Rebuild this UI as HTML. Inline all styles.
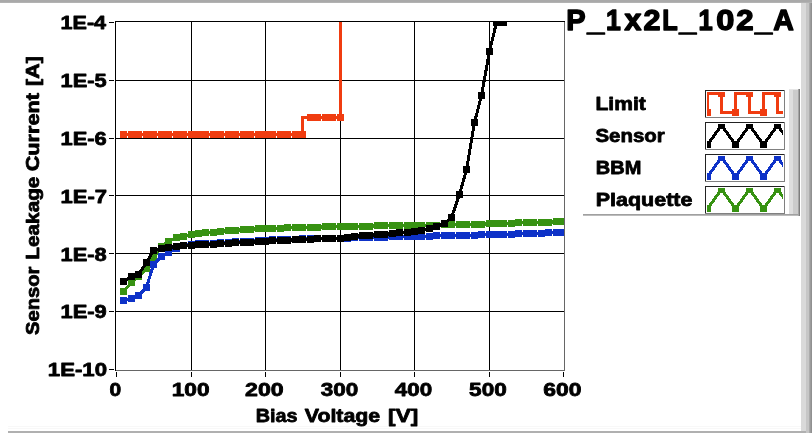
<!DOCTYPE html>
<html><head><meta charset="utf-8"><title>P_1x2L_102_A</title>
<style>html,body{margin:0;padding:0;background:#fff;overflow:hidden}body{width:812px;height:433px;position:relative;font-family:"Liberation Sans",sans-serif}</style></head>
<body>
<svg width="812" height="433" viewBox="0 0 812 433" style="display:block;position:absolute;left:0;top:0;will-change:transform">
<defs><clipPath id="pc"><rect x="116" y="22" width="448" height="348"/></clipPath>
<clipPath id="lc0"><rect x="707" y="92" width="76" height="24"/></clipPath>
<clipPath id="lc1"><rect x="707" y="124" width="76" height="24"/></clipPath>
<clipPath id="lc2"><rect x="707" y="156" width="76" height="24"/></clipPath>
<clipPath id="lc3"><rect x="707" y="188" width="76" height="24"/></clipPath>
</defs>
<rect width="812" height="433" fill="#fff"/>
<g shape-rendering="crispEdges">
<rect x="0" y="0" width="812" height="2" fill="#a9a9a9"/><rect x="0" y="2" width="812" height="1" fill="#b2b2b2"/>
<rect x="801" y="3" width="5" height="428" fill="#d9d9d9"/><rect x="806" y="3" width="3" height="430" fill="#c6c6c6"/><rect x="809" y="3" width="1" height="430" fill="#ababab"/><rect x="810" y="3" width="1" height="430" fill="#9c9c9c"/><rect x="811" y="3" width="1" height="430" fill="#909090"/>
<rect x="8" y="426" width="793" height="1" fill="#f8f8f8"/><rect x="8" y="428" width="793" height="1" fill="#f8f8f8"/>
<rect x="8" y="431" width="798" height="2" fill="#b0b0b0"/>
</g>
<g shape-rendering="crispEdges" fill="#000">
<rect x="191" y="22" width="1" height="348"/>
<rect x="265" y="22" width="1" height="348"/>
<rect x="340" y="22" width="1" height="348"/>
<rect x="414" y="22" width="1" height="348"/>
<rect x="489" y="22" width="1" height="348"/>
<rect x="116" y="80" width="448" height="1"/>
<rect x="116" y="138" width="448" height="1"/>
<rect x="116" y="195" width="448" height="1"/>
<rect x="116" y="253" width="448" height="1"/>
<rect x="116" y="311" width="448" height="1"/>
<rect x="115" y="21" width="450" height="1"/><rect x="115" y="21" width="1" height="350"/>
<rect x="116" y="370" width="449" height="1" fill="#666"/><rect x="564" y="22" width="1" height="349" fill="#666"/>
<rect x="109" y="22" width="5" height="1"/>
<rect x="109" y="80" width="5" height="1"/>
<rect x="109" y="138" width="5" height="1"/>
<rect x="109" y="195" width="5" height="1"/>
<rect x="109" y="253" width="5" height="1"/>
<rect x="109" y="311" width="5" height="1"/>
<rect x="109" y="369" width="5" height="1"/>
<rect x="116" y="372" width="1" height="5"/>
<rect x="191" y="372" width="1" height="5"/>
<rect x="265" y="372" width="1" height="5"/>
<rect x="340" y="372" width="1" height="5"/>
<rect x="414" y="372" width="1" height="5"/>
<rect x="489" y="372" width="1" height="5"/>
<rect x="563" y="372" width="1" height="5"/>
</g>
<g clip-path="url(#pc)">
<polyline points="123.5,291.5 131.5,282.5 138.5,276.5 146.5,268.5 153.5,257.5 161.5,246.5 168.5,241.5 176.5,237.5 183.5,236.5 191.5,234.5 198.5,233.5 205.5,232.5 213.5,232.5 220.5,231.5 228.5,230.5 235.5,230.5 243.5,229.5 250.5,229.5 258.5,228.5 265.5,228.5 272.5,228.5 280.5,228.5 287.5,227.5 295.5,227.5 302.5,227.5 310.5,227.5 317.5,227.5 325.5,226.5 332.5,226.5 340.5,226.5 347.5,226.5 354.5,226.5 362.5,226.5 369.5,226.5 377.5,225.5 384.5,225.5 392.5,225.5 399.5,225.5 407.5,225.5 414.5,225.5 421.5,225.5 429.5,225.5 436.5,225.5 444.5,224.5 451.5,224.5 459.5,224.5 466.5,224.5 474.5,224.5 481.5,224.5 489.5,223.5 496.5,223.5 503.5,223.5 511.5,223.5 518.5,222.5 526.5,222.5 533.5,222.5 541.5,222.5 548.5,222.5 556.5,221.5 563.5,221.5" fill="none" stroke="#379212" stroke-width="3" stroke-linejoin="round" shape-rendering="crispEdges"/>
<g fill="#379212" shape-rendering="crispEdges"><rect x="120" y="288" width="7" height="7"/><rect x="128" y="279" width="7" height="7"/><rect x="135" y="273" width="7" height="7"/><rect x="143" y="265" width="7" height="7"/><rect x="150" y="254" width="7" height="7"/><rect x="158" y="243" width="7" height="7"/><rect x="165" y="238" width="7" height="7"/><rect x="173" y="234" width="7" height="7"/><rect x="180" y="233" width="7" height="7"/><rect x="188" y="231" width="7" height="7"/><rect x="195" y="230" width="7" height="7"/><rect x="202" y="229" width="7" height="7"/><rect x="210" y="229" width="7" height="7"/><rect x="217" y="228" width="7" height="7"/><rect x="225" y="227" width="7" height="7"/><rect x="232" y="227" width="7" height="7"/><rect x="240" y="226" width="7" height="7"/><rect x="247" y="226" width="7" height="7"/><rect x="255" y="225" width="7" height="7"/><rect x="262" y="225" width="7" height="7"/><rect x="269" y="225" width="7" height="7"/><rect x="277" y="225" width="7" height="7"/><rect x="284" y="224" width="7" height="7"/><rect x="292" y="224" width="7" height="7"/><rect x="299" y="224" width="7" height="7"/><rect x="307" y="224" width="7" height="7"/><rect x="314" y="224" width="7" height="7"/><rect x="322" y="223" width="7" height="7"/><rect x="329" y="223" width="7" height="7"/><rect x="337" y="223" width="7" height="7"/><rect x="344" y="223" width="7" height="7"/><rect x="351" y="223" width="7" height="7"/><rect x="359" y="223" width="7" height="7"/><rect x="366" y="223" width="7" height="7"/><rect x="374" y="222" width="7" height="7"/><rect x="381" y="222" width="7" height="7"/><rect x="389" y="222" width="7" height="7"/><rect x="396" y="222" width="7" height="7"/><rect x="404" y="222" width="7" height="7"/><rect x="411" y="222" width="7" height="7"/><rect x="418" y="222" width="7" height="7"/><rect x="426" y="222" width="7" height="7"/><rect x="433" y="222" width="7" height="7"/><rect x="441" y="221" width="7" height="7"/><rect x="448" y="221" width="7" height="7"/><rect x="456" y="221" width="7" height="7"/><rect x="463" y="221" width="7" height="7"/><rect x="471" y="221" width="7" height="7"/><rect x="478" y="221" width="7" height="7"/><rect x="486" y="220" width="7" height="7"/><rect x="493" y="220" width="7" height="7"/><rect x="500" y="220" width="7" height="7"/><rect x="508" y="220" width="7" height="7"/><rect x="515" y="219" width="7" height="7"/><rect x="523" y="219" width="7" height="7"/><rect x="530" y="219" width="7" height="7"/><rect x="538" y="219" width="7" height="7"/><rect x="545" y="219" width="7" height="7"/><rect x="553" y="218" width="7" height="7"/><rect x="560" y="218" width="7" height="7"/></g>
<polyline points="123.5,300.5 131.5,298.5 138.5,295.5 146.5,287.5 153.5,264.5 161.5,256.5 168.5,252.5 176.5,248.5 183.5,245.5 191.5,244.5 198.5,243.5 205.5,243.5 213.5,243.5 220.5,242.5 228.5,242.5 235.5,241.5 243.5,241.5 250.5,241.5 258.5,240.5 265.5,240.5 272.5,239.5 280.5,239.5 287.5,239.5 295.5,239.5 302.5,238.5 310.5,238.5 317.5,238.5 325.5,238.5 332.5,238.5 340.5,238.5 347.5,238.5 354.5,237.5 362.5,237.5 369.5,237.5 377.5,237.5 384.5,237.5 392.5,236.5 399.5,236.5 407.5,236.5 414.5,236.5 421.5,236.5 429.5,236.5 436.5,235.5 444.5,235.5 451.5,235.5 459.5,235.5 466.5,235.5 474.5,235.5 481.5,234.5 489.5,234.5 496.5,234.5 503.5,234.5 511.5,234.5 518.5,233.5 526.5,233.5 533.5,233.5 541.5,233.5 548.5,232.5 556.5,232.5 563.5,232.5" fill="none" stroke="#0e32c8" stroke-width="3" stroke-linejoin="round" shape-rendering="crispEdges"/>
<g fill="#0e32c8" shape-rendering="crispEdges"><rect x="120" y="297" width="7" height="7"/><rect x="128" y="295" width="7" height="7"/><rect x="135" y="292" width="7" height="7"/><rect x="143" y="284" width="7" height="7"/><rect x="150" y="261" width="7" height="7"/><rect x="158" y="253" width="7" height="7"/><rect x="165" y="249" width="7" height="7"/><rect x="173" y="245" width="7" height="7"/><rect x="180" y="242" width="7" height="7"/><rect x="188" y="241" width="7" height="7"/><rect x="195" y="240" width="7" height="7"/><rect x="202" y="240" width="7" height="7"/><rect x="210" y="240" width="7" height="7"/><rect x="217" y="239" width="7" height="7"/><rect x="225" y="239" width="7" height="7"/><rect x="232" y="238" width="7" height="7"/><rect x="240" y="238" width="7" height="7"/><rect x="247" y="238" width="7" height="7"/><rect x="255" y="237" width="7" height="7"/><rect x="262" y="237" width="7" height="7"/><rect x="269" y="236" width="7" height="7"/><rect x="277" y="236" width="7" height="7"/><rect x="284" y="236" width="7" height="7"/><rect x="292" y="236" width="7" height="7"/><rect x="299" y="235" width="7" height="7"/><rect x="307" y="235" width="7" height="7"/><rect x="314" y="235" width="7" height="7"/><rect x="322" y="235" width="7" height="7"/><rect x="329" y="235" width="7" height="7"/><rect x="337" y="235" width="7" height="7"/><rect x="344" y="235" width="7" height="7"/><rect x="351" y="234" width="7" height="7"/><rect x="359" y="234" width="7" height="7"/><rect x="366" y="234" width="7" height="7"/><rect x="374" y="234" width="7" height="7"/><rect x="381" y="234" width="7" height="7"/><rect x="389" y="233" width="7" height="7"/><rect x="396" y="233" width="7" height="7"/><rect x="404" y="233" width="7" height="7"/><rect x="411" y="233" width="7" height="7"/><rect x="418" y="233" width="7" height="7"/><rect x="426" y="233" width="7" height="7"/><rect x="433" y="232" width="7" height="7"/><rect x="441" y="232" width="7" height="7"/><rect x="448" y="232" width="7" height="7"/><rect x="456" y="232" width="7" height="7"/><rect x="463" y="232" width="7" height="7"/><rect x="471" y="232" width="7" height="7"/><rect x="478" y="231" width="7" height="7"/><rect x="486" y="231" width="7" height="7"/><rect x="493" y="231" width="7" height="7"/><rect x="500" y="231" width="7" height="7"/><rect x="508" y="231" width="7" height="7"/><rect x="515" y="230" width="7" height="7"/><rect x="523" y="230" width="7" height="7"/><rect x="530" y="230" width="7" height="7"/><rect x="538" y="230" width="7" height="7"/><rect x="545" y="229" width="7" height="7"/><rect x="553" y="229" width="7" height="7"/><rect x="560" y="229" width="7" height="7"/></g>
<polyline points="123.5,281.5 131.5,276.5 138.5,274.5 146.5,262.5 153.5,250.5 161.5,248.5 168.5,247.5 176.5,246.5 183.5,245.5 191.5,245.5 198.5,244.5 205.5,244.5 213.5,244.5 220.5,243.5 228.5,243.5 235.5,242.5 243.5,242.5 250.5,242.5 258.5,241.5 265.5,241.5 272.5,240.5 280.5,240.5 287.5,240.5 295.5,239.5 302.5,239.5 310.5,239.5 317.5,238.5 325.5,238.5 332.5,238.5 340.5,238.5 347.5,237.5 354.5,236.5 362.5,235.5 369.5,235.5 377.5,234.5 384.5,234.5 392.5,233.5 399.5,232.5 407.5,232.5 414.5,231.5 421.5,230.5 429.5,228.5 436.5,226.5 444.5,223.5 451.5,217.5 459.5,194.5 466.5,169.5 474.5,122.5 481.5,95.5 489.5,51.5 496.5,22.5 503.5,22.5" fill="none" stroke="#000000" stroke-width="3" stroke-linejoin="round" shape-rendering="crispEdges"/>
<g fill="#000000" shape-rendering="crispEdges"><rect x="120" y="278" width="7" height="7"/><rect x="128" y="273" width="7" height="7"/><rect x="135" y="271" width="7" height="7"/><rect x="143" y="259" width="7" height="7"/><rect x="150" y="247" width="7" height="7"/><rect x="158" y="245" width="7" height="7"/><rect x="165" y="244" width="7" height="7"/><rect x="173" y="243" width="7" height="7"/><rect x="180" y="242" width="7" height="7"/><rect x="188" y="242" width="7" height="7"/><rect x="195" y="241" width="7" height="7"/><rect x="202" y="241" width="7" height="7"/><rect x="210" y="241" width="7" height="7"/><rect x="217" y="240" width="7" height="7"/><rect x="225" y="240" width="7" height="7"/><rect x="232" y="239" width="7" height="7"/><rect x="240" y="239" width="7" height="7"/><rect x="247" y="239" width="7" height="7"/><rect x="255" y="238" width="7" height="7"/><rect x="262" y="238" width="7" height="7"/><rect x="269" y="237" width="7" height="7"/><rect x="277" y="237" width="7" height="7"/><rect x="284" y="237" width="7" height="7"/><rect x="292" y="236" width="7" height="7"/><rect x="299" y="236" width="7" height="7"/><rect x="307" y="236" width="7" height="7"/><rect x="314" y="235" width="7" height="7"/><rect x="322" y="235" width="7" height="7"/><rect x="329" y="235" width="7" height="7"/><rect x="337" y="235" width="7" height="7"/><rect x="344" y="234" width="7" height="7"/><rect x="351" y="233" width="7" height="7"/><rect x="359" y="232" width="7" height="7"/><rect x="366" y="232" width="7" height="7"/><rect x="374" y="231" width="7" height="7"/><rect x="381" y="231" width="7" height="7"/><rect x="389" y="230" width="7" height="7"/><rect x="396" y="229" width="7" height="7"/><rect x="404" y="229" width="7" height="7"/><rect x="411" y="228" width="7" height="7"/><rect x="418" y="227" width="7" height="7"/><rect x="426" y="225" width="7" height="7"/><rect x="433" y="223" width="7" height="7"/><rect x="441" y="220" width="7" height="7"/><rect x="448" y="214" width="7" height="7"/><rect x="456" y="191" width="7" height="7"/><rect x="463" y="166" width="7" height="7"/><rect x="471" y="119" width="7" height="7"/><rect x="478" y="92" width="7" height="7"/><rect x="486" y="48" width="7" height="7"/><rect x="493" y="19" width="7" height="7"/><rect x="500" y="19" width="7" height="7"/></g>
<polyline points="123.5,134.5 131.5,134.5 138.5,134.5 146.5,134.5 153.5,134.5 161.5,134.5 168.5,134.5 176.5,134.5 183.5,134.5 191.5,134.5 198.5,134.5 205.5,134.5 213.5,134.5 220.5,134.5 228.5,134.5 235.5,134.5 243.5,134.5 250.5,134.5 258.5,134.5 265.5,134.5 272.5,134.5 280.5,134.5 287.5,134.5 295.5,134.5 302.5,134.5 302.5,117.5 310.5,117.5 317.5,117.5 325.5,117.5 332.5,117.5 340.5,117.5 340.5,0.0" fill="none" stroke="#f03c10" stroke-width="3" stroke-linejoin="miter" shape-rendering="crispEdges"/>
<g fill="#f03c10" shape-rendering="crispEdges"><rect x="120" y="131" width="7" height="7"/><rect x="128" y="131" width="7" height="7"/><rect x="135" y="131" width="7" height="7"/><rect x="143" y="131" width="7" height="7"/><rect x="150" y="131" width="7" height="7"/><rect x="158" y="131" width="7" height="7"/><rect x="165" y="131" width="7" height="7"/><rect x="173" y="131" width="7" height="7"/><rect x="180" y="131" width="7" height="7"/><rect x="188" y="131" width="7" height="7"/><rect x="195" y="131" width="7" height="7"/><rect x="202" y="131" width="7" height="7"/><rect x="210" y="131" width="7" height="7"/><rect x="217" y="131" width="7" height="7"/><rect x="225" y="131" width="7" height="7"/><rect x="232" y="131" width="7" height="7"/><rect x="240" y="131" width="7" height="7"/><rect x="247" y="131" width="7" height="7"/><rect x="255" y="131" width="7" height="7"/><rect x="262" y="131" width="7" height="7"/><rect x="269" y="131" width="7" height="7"/><rect x="277" y="131" width="7" height="7"/><rect x="284" y="131" width="7" height="7"/><rect x="292" y="131" width="7" height="7"/><rect x="299" y="131" width="7" height="7"/><rect x="307" y="114" width="7" height="7"/><rect x="314" y="114" width="7" height="7"/><rect x="322" y="114" width="7" height="7"/><rect x="329" y="114" width="7" height="7"/><rect x="337" y="114" width="7" height="7"/></g>
</g>
<g font-family="Liberation Sans, sans-serif" font-weight="bold" fill="#000" stroke="#000" stroke-width="0.8" stroke-linejoin="round">
<text x="60.54" y="29.30" font-size="19.0" textLength="45.57" lengthAdjust="spacingAndGlyphs" >1E-4</text>
<text x="60.53" y="87.13" font-size="19.0" textLength="46.08" lengthAdjust="spacingAndGlyphs" >1E-5</text>
<text x="60.52" y="144.96" font-size="19.0" textLength="46.27" lengthAdjust="spacingAndGlyphs" >1E-6</text>
<text x="60.51" y="202.79" font-size="19.0" textLength="46.45" lengthAdjust="spacingAndGlyphs" >1E-7</text>
<text x="60.52" y="260.62" font-size="19.0" textLength="46.15" lengthAdjust="spacingAndGlyphs" >1E-8</text>
<text x="60.52" y="318.45" font-size="19.0" textLength="46.29" lengthAdjust="spacingAndGlyphs" >1E-9</text>
<text x="47.80" y="376.28" font-size="19.0" textLength="59.21" lengthAdjust="spacingAndGlyphs" >1E-10</text>
<text x="109.57" y="396.20" font-size="19.0" textLength="11.69" lengthAdjust="spacingAndGlyphs" >0</text>
<text x="171.67" y="396.20" font-size="19.0" textLength="37.86" lengthAdjust="spacingAndGlyphs" >100</text>
<text x="245.00" y="396.20" font-size="19.0" textLength="38.65" lengthAdjust="spacingAndGlyphs" >200</text>
<text x="320.68" y="396.20" font-size="19.0" textLength="37.54" lengthAdjust="spacingAndGlyphs" >300</text>
<text x="394.76" y="396.20" font-size="19.0" textLength="37.36" lengthAdjust="spacingAndGlyphs" >400</text>
<text x="469.11" y="396.20" font-size="19.0" textLength="37.62" lengthAdjust="spacingAndGlyphs" >500</text>
<text x="543.36" y="396.20" font-size="19.0" textLength="38.18" lengthAdjust="spacingAndGlyphs" >600</text>
<text x="255.78" y="422.30" font-size="19.0" textLength="41.73" lengthAdjust="spacingAndGlyphs" >Bias</text>
<text x="304.76" y="422.30" font-size="19.0" textLength="75.46" lengthAdjust="spacingAndGlyphs" >Voltage</text>
<text x="388.13" y="422.30" font-size="19.0" textLength="30.03" lengthAdjust="spacingAndGlyphs" >[V]</text>
<g transform="rotate(-90)">
<text x="-334.98" y="38.70" font-size="19.0" textLength="68.39" lengthAdjust="spacingAndGlyphs" >Sensor</text>
<text x="-259.69" y="38.70" font-size="19.0" textLength="83.10" lengthAdjust="spacingAndGlyphs" >Leakage</text>
<text x="-171.29" y="38.70" font-size="19.0" textLength="78.25" lengthAdjust="spacingAndGlyphs" >Current</text>
<text x="-85.90" y="38.70" font-size="19.0" textLength="29.70" lengthAdjust="spacingAndGlyphs" >[A]</text>
</g>
<text x="595.49" y="110.30" font-size="19.0" textLength="50.26" lengthAdjust="spacingAndGlyphs" >Limit</text>
<text x="595.41" y="142.40" font-size="19.0" textLength="69.30" lengthAdjust="spacingAndGlyphs" >Sensor</text>
<text x="595.86" y="174.30" font-size="19.0" textLength="45.47" lengthAdjust="spacingAndGlyphs" >BBM</text>
<text x="595.76" y="206.00" font-size="19.0" textLength="96.67" lengthAdjust="spacingAndGlyphs" >Plaquette</text>
<text font-size="29.6" stroke-width="1.4" ><tspan x="566.26" y="30.10" textLength="19.33" lengthAdjust="spacingAndGlyphs">P</tspan><tspan x="587.20" y="31.40" textLength="17.03" lengthAdjust="spacingAndGlyphs">_</tspan><tspan x="605.92" y="30.10" textLength="14.82" lengthAdjust="spacingAndGlyphs">1</tspan><tspan x="624.49" y="30.10" textLength="16.83" lengthAdjust="spacingAndGlyphs">x</tspan><tspan x="643.54" y="30.10" textLength="16.98" lengthAdjust="spacingAndGlyphs">2</tspan><tspan x="662.31" y="30.10" textLength="15.47" lengthAdjust="spacingAndGlyphs">L</tspan><tspan x="679.20" y="31.40" textLength="16.94" lengthAdjust="spacingAndGlyphs">_</tspan><tspan x="698.39" y="30.10" textLength="14.22" lengthAdjust="spacingAndGlyphs">1</tspan><tspan x="716.31" y="30.10" textLength="18.13" lengthAdjust="spacingAndGlyphs">0</tspan><tspan x="736.22" y="30.10" textLength="17.33" lengthAdjust="spacingAndGlyphs">2</tspan><tspan x="755.10" y="31.40" textLength="17.13" lengthAdjust="spacingAndGlyphs">_</tspan><tspan x="773.19" y="30.10" textLength="20.56" lengthAdjust="spacingAndGlyphs">A</tspan></text>
</g>
<g shape-rendering="crispEdges">
<rect x="789" y="90" width="4" height="124" fill="#dedede"/><rect x="793" y="90" width="5" height="124" fill="#cbcbcb"/><rect x="798" y="89" width="1" height="127" fill="#a4a4a4"/><rect x="799" y="89" width="1" height="127" fill="#7e7e7e"/>
<rect x="789" y="89" width="9" height="1" fill="#e6e6e6"/>
<rect x="583" y="214" width="215" height="1" fill="#a0a0a0"/><rect x="583" y="215" width="215" height="1" fill="#bcbcbc"/>
</g>
<g shape-rendering="crispEdges"><rect x="705" y="90" width="80" height="28" fill="#fff"/><rect x="705" y="90" width="80" height="1" fill="#222"/><rect x="705" y="90" width="1" height="28" fill="#222"/><rect x="705" y="117" width="80" height="1" fill="#808080"/><rect x="784" y="90" width="1" height="28" fill="#808080"/></g>
<g clip-path="url(#lc0)">
<polyline points="707.5,112.5 707.5,93.5 721.5,93.5 721.5,112.5 735.5,112.5 735.5,93.5 749.5,93.5 749.5,112.5 763.5,112.5 763.5,93.5 777.5,93.5 777.5,112.5 791.5,112.5" fill="none" stroke="#f03c10" stroke-width="3" stroke-linejoin="miter" shape-rendering="crispEdges"/>
<g fill="#f03c10" shape-rendering="crispEdges"><rect x="704" y="109" width="7" height="7"/><rect x="718" y="90" width="7" height="7"/><rect x="732" y="109" width="7" height="7"/><rect x="746" y="90" width="7" height="7"/><rect x="760" y="109" width="7" height="7"/><rect x="774" y="90" width="7" height="7"/><rect x="788" y="109" width="7" height="7"/></g>
</g>
<g shape-rendering="crispEdges"><rect x="705" y="122" width="80" height="28" fill="#fff"/><rect x="705" y="122" width="80" height="1" fill="#222"/><rect x="705" y="122" width="1" height="28" fill="#222"/><rect x="705" y="149" width="80" height="1" fill="#808080"/><rect x="784" y="122" width="1" height="28" fill="#808080"/></g>
<g clip-path="url(#lc1)">
<polyline points="707.5,144.5 721.5,125.5 735.5,144.5 749.5,125.5 763.5,144.5 777.5,125.5 791.5,144.5" fill="none" stroke="#000000" stroke-width="3" stroke-linejoin="round" shape-rendering="crispEdges"/>
<g fill="#000000" shape-rendering="crispEdges"><rect x="704" y="141" width="7" height="7"/><rect x="718" y="122" width="7" height="7"/><rect x="732" y="141" width="7" height="7"/><rect x="746" y="122" width="7" height="7"/><rect x="760" y="141" width="7" height="7"/><rect x="774" y="122" width="7" height="7"/><rect x="788" y="141" width="7" height="7"/></g>
</g>
<g shape-rendering="crispEdges"><rect x="705" y="154" width="80" height="28" fill="#fff"/><rect x="705" y="154" width="80" height="1" fill="#222"/><rect x="705" y="154" width="1" height="28" fill="#222"/><rect x="705" y="181" width="80" height="1" fill="#808080"/><rect x="784" y="154" width="1" height="28" fill="#808080"/></g>
<g clip-path="url(#lc2)">
<polyline points="707.5,176.5 721.5,157.5 735.5,176.5 749.5,157.5 763.5,176.5 777.5,157.5 791.5,176.5" fill="none" stroke="#0e32c8" stroke-width="3" stroke-linejoin="round" shape-rendering="crispEdges"/>
<g fill="#0e32c8" shape-rendering="crispEdges"><rect x="704" y="173" width="7" height="7"/><rect x="718" y="154" width="7" height="7"/><rect x="732" y="173" width="7" height="7"/><rect x="746" y="154" width="7" height="7"/><rect x="760" y="173" width="7" height="7"/><rect x="774" y="154" width="7" height="7"/><rect x="788" y="173" width="7" height="7"/></g>
</g>
<g shape-rendering="crispEdges"><rect x="705" y="186" width="80" height="28" fill="#fff"/><rect x="705" y="186" width="80" height="1" fill="#222"/><rect x="705" y="186" width="1" height="28" fill="#222"/><rect x="705" y="213" width="80" height="1" fill="#808080"/><rect x="784" y="186" width="1" height="28" fill="#808080"/></g>
<g clip-path="url(#lc3)">
<polyline points="707.5,208.5 721.5,189.5 735.5,208.5 749.5,189.5 763.5,208.5 777.5,189.5 791.5,208.5" fill="none" stroke="#379212" stroke-width="3" stroke-linejoin="round" shape-rendering="crispEdges"/>
<g fill="#379212" shape-rendering="crispEdges"><rect x="704" y="205" width="7" height="7"/><rect x="718" y="186" width="7" height="7"/><rect x="732" y="205" width="7" height="7"/><rect x="746" y="186" width="7" height="7"/><rect x="760" y="205" width="7" height="7"/><rect x="774" y="186" width="7" height="7"/><rect x="788" y="205" width="7" height="7"/></g>
</g>
</svg>
</body></html>
